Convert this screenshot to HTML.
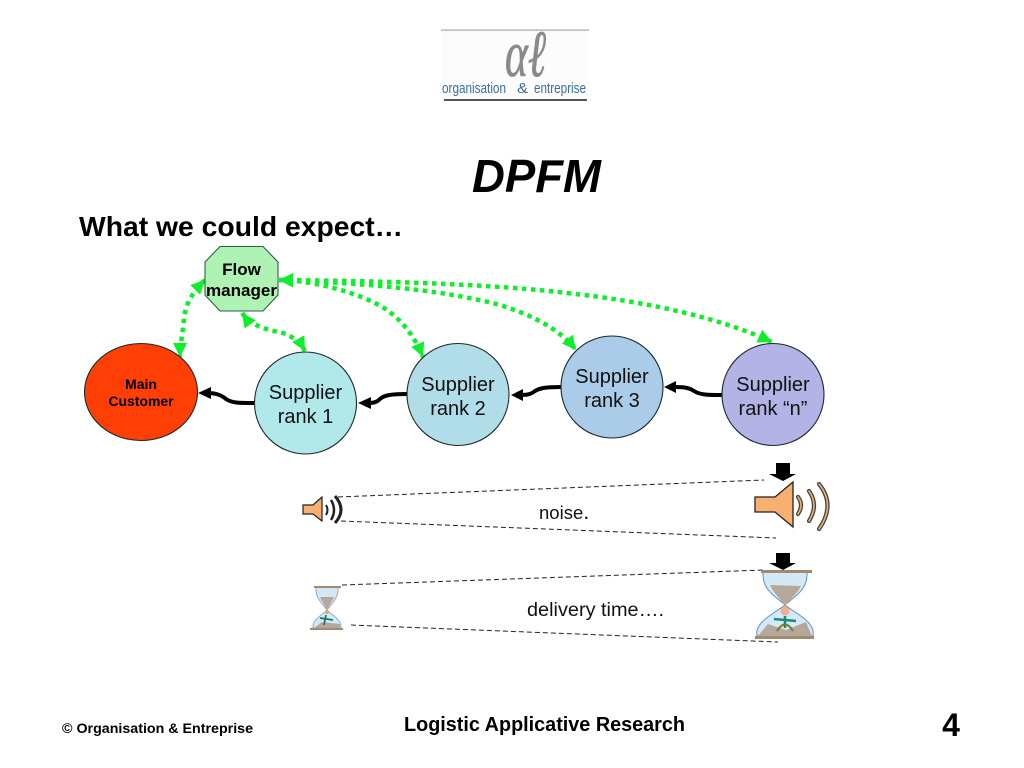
<!DOCTYPE html>
<html><head><meta charset="utf-8"><style>
html,body{margin:0;padding:0;background:#fff}
svg{display:block}
text{font-family:"Liberation Sans",sans-serif}
</style></head><body>
<svg width="1024" height="768" viewBox="0 0 1024 768" xmlns="http://www.w3.org/2000/svg">
<defs>
<marker id="g" markerUnits="userSpaceOnUse" markerWidth="16" markerHeight="16" refX="14" refY="7" orient="auto-start-reverse"><path d="M0 0L14 7L0 14Z" fill="#0fee2a"/></marker>
</defs>
<rect width="1024" height="768" fill="#fff"/>
<!-- logo -->
<rect x="441" y="29" width="148" height="73" fill="#fcfcfc"/>
<rect x="441" y="29.5" width="148" height="1.2" fill="#a8a8a8"/>
<rect x="444" y="99" width="143" height="2" fill="#555"/>
<text x="505" y="76" font-size="66" font-style="italic" fill="#8a8a8a" stroke="#8a8a8a" stroke-width="0.800" textLength="41" lengthAdjust="spacingAndGlyphs" style="font-family:'Liberation Serif',serif">αℓ</text>
<g font-size="15" fill="#3a6ea5">
<text x="442" y="93" textLength="64" lengthAdjust="spacingAndGlyphs">organisation</text>
<text x="517" y="93" textLength="11" lengthAdjust="spacingAndGlyphs">&amp;</text>
<text x="534" y="93" textLength="52" lengthAdjust="spacingAndGlyphs">entreprise</text>
</g>
<!-- titles -->
<text x="472" y="192" font-size="46" font-weight="bold" font-style="italic" textLength="129" lengthAdjust="spacingAndGlyphs">DPFM</text>
<text x="79" y="236" font-size="27.500" font-weight="bold" textLength="324" lengthAdjust="spacingAndGlyphs">What we could expect…</text>
<!-- green dotted -->
<g fill="none" stroke="#0fee2a" stroke-width="4.500" stroke-dasharray="4.500 4.500" marker-start="url(#g)" marker-end="url(#g)">
<path d="M205 280C197 288 186 300 184 318C183 332 180 345 180 357"/>
<path d="M242 313C250 324 262 329 283 333C292 336 300 342 305 351"/>
<path d="M279 280C310 280 360 292 387 310C405 323 416 340 423 357"/>
<path d="M279 280C360 283 440 289 500 305C535 316 560 330 576 350"/>
<path d="M279 280C400 281 500 285 567 293C650 302 720 318 772 342"/>
</g>
<!-- black connectors -->
<g fill="none" stroke="#000" stroke-width="4">
<path d="M254 403C238 403 232 403 226 399C220 394 214 393 206 393"/>
<path d="M407 394C392 394 384 395 380 399C376 403 372 403 366 403"/>
<path d="M561 387C546 387 540 388 535 391C530 395 526 395 518 395"/>
<path d="M722 395C708 395 700 395 694 391C688 387 682 387 672 387"/>
</g>
<g fill="#000">
<path d="M198 393L211 387V399Z"/>
<path d="M358 403L371 397V409Z"/>
<path d="M511 395L523 389V401Z"/>
<path d="M664 387L676 381V393Z"/>
</g>
<!-- nodes -->
<g stroke="#1a2a2a" stroke-width="1.100">
<polygon points="220,246.500 263,246.500 278,262 278,295 263,311 220,311 205,295 205,262" fill="#aef2b4" stroke="#2f5f45"/>
<ellipse cx="141" cy="392" rx="56.500" ry="48.500" fill="#ff3f05"/>
<circle cx="305.500" cy="403" r="51" fill="#b1e8ea"/>
<circle cx="458" cy="394.500" r="51" fill="#b1dde8"/>
<circle cx="612" cy="387" r="51" fill="#aacce8"/>
<circle cx="773" cy="394.500" r="51" fill="#b3b3e5"/>
</g>
<g text-anchor="middle">
<g font-weight="bold" font-size="17"><text x="241.500" y="275">Flow</text><text x="241.500" y="296" textLength="71" lengthAdjust="spacingAndGlyphs">manager</text></g>
<g font-weight="bold" font-size="14"><text x="141" y="389">Main</text><text x="141" y="406" textLength="65" lengthAdjust="spacingAndGlyphs">Customer</text></g>
<g font-size="20" fill="#111">
<text x="305.500" y="399">Supplier</text><text x="305.500" y="423">rank 1</text>
<text x="458" y="391">Supplier</text><text x="458" y="415">rank 2</text>
<text x="612" y="383">Supplier</text><text x="612" y="407">rank 3</text>
<text x="773" y="391">Supplier</text><text x="773" y="415">rank “n”</text>
</g>
</g>
<!-- dashed -->
<g stroke="#222" stroke-width="1" stroke-dasharray="5 3" fill="none">
<path d="M338 497L764 480"/>
<path d="M341 521L776 538"/>
<path d="M342 585L764 570"/>
<path d="M351 625L778 642"/>
</g>
<text x="539" y="519" font-size="18.500" fill="#111">noise<tspan font-size="22">.</tspan></text>
<text x="527" y="616" font-size="19" fill="#111" textLength="137" lengthAdjust="spacingAndGlyphs">delivery time….</text>
<!-- big speaker -->
<path d="M755 497H775L793 482V527L775 512H755Z" fill="#f8b070" stroke="#222" stroke-width="1.300"/>
<g fill="none" stroke-linecap="round">
<g stroke="#444" stroke-width="4.200"><path d="M798 497Q804 505 798 514"/><path d="M809 491Q819 505 809 521"/><path d="M819 484Q836 505 819 529"/></g>
<g stroke="#f0b070" stroke-width="1.600"><path d="M798 497Q804 505 798 514"/><path d="M809 491Q819 505 809 521"/><path d="M819 484Q836 505 819 529"/></g>
</g>
<path d="M776 463H790V474H796L783 481L769 474H776Z" fill="#000"/>
<!-- small speaker -->
<path d="M303 505H313L322 497V521L313 514H303Z" fill="#f8b070" stroke="#222" stroke-width="1.200"/>
<g fill="none" stroke="#222"><path d="M326 505Q329 510 326 515" stroke-width="2"/><path d="M331 500Q337 510 331 520" stroke-width="2.500"/><path d="M335 496Q347 510 335 523" stroke-width="3"/></g>
<!-- big hourglass -->
<path d="M763 572C762 590 775 596 785 605C795 596 808 590 807 572Z" fill="#d4e8f6" stroke="#5a8ecf"/>
<path d="M785 605C775 613 754 622 757 636H813C816 622 795 613 785 605Z" fill="#d4e8f6" stroke="#5a8ecf"/>
<path d="M770 585L801 586C796 596 788 600 785 607C782 600 774 594 770 585Z" fill="#b5a89a"/>
<path d="M758 636L768 624L786 630L806 622L812 636Z" fill="#b5a89a"/>
<circle cx="785" cy="611" r="4.500" fill="#f0b090"/>
<path d="M774 619L796 621M785 616V628" stroke="#1a8a7a" stroke-width="2.500" fill="none"/>
<path d="M777 631Q785 618 793 631" stroke="#7a7a20" stroke-width="2" fill="none"/>
<rect x="761" y="570" width="51" height="3" fill="#a08a70"/>
<rect x="755" y="636" width="59" height="3" fill="#a08a70"/>
<path d="M776 553H790V563H796L783 570L769 563H776Z" fill="#000"/>
<!-- small hourglass -->
<path d="M316 587C315 598 322 603 327 610C332 603 339 598 338 587Z" fill="#d4e8f6" stroke="#7aa0cf" stroke-width="0.800"/>
<path d="M327 610C322 615 312 620 313 628H341C342 620 332 615 327 610Z" fill="#d4e8f6" stroke="#7aa0cf" stroke-width="0.800"/>
<path d="M320 597L334 597C332 602 329 605 327 611C325 605 322 602 320 597Z" fill="#b5a89a"/>
<path d="M314 628L322 622L340 624V628Z" fill="#b5a89a"/>
<circle cx="327" cy="612" r="2" fill="#f0a070"/>
<path d="M320 618L333 620M326 615L324 625" stroke="#1a7a6a" stroke-width="1.800" fill="none"/>
<rect x="314" y="586" width="27" height="2" fill="#a08a70"/>
<rect x="310" y="628" width="33" height="2" fill="#a08a70"/>
<!-- footer -->
<text x="62" y="733" font-size="14" font-weight="bold" textLength="191" lengthAdjust="spacingAndGlyphs">© Organisation &amp; Entreprise</text>
<text x="404" y="731" font-size="20" font-weight="bold" textLength="281" lengthAdjust="spacingAndGlyphs">Logistic Applicative Research</text>
<text x="951" y="736" font-size="32" font-weight="bold" text-anchor="middle">4</text>
</svg>
</body></html>
